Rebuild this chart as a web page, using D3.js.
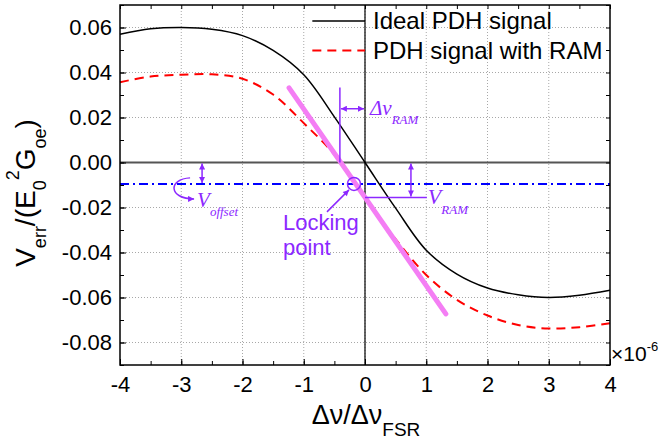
<!DOCTYPE html>
<html>
<head>
<meta charset="utf-8">
<script src="https://cdn.jsdelivr.net/npm/d3@7"></script>
<style>
body { margin: 0; background: #fff; }
svg text { font-family: "Liberation Sans", Arial, sans-serif; }
.grid line { stroke: #a8a8a8; stroke-width: 1; stroke-dasharray: 1,2; }
.axis line { stroke: #000; }
.axis path { display: none; }
.axis text { font-size: 22px; fill: #000; }
.note { fill: #8c28ff; }
.it { font-family: "Liberation Serif", "Times New Roman", serif; font-style: italic; }
</style>
</head>
<body>
<div id="chart"></div>
<script>
// detuning, in units of 1e-6 FSR
var detuning = [-4, -3.5, -3, -2.5, -2, -1.5, -1, -0.5, 0, 0.5, 1, 1.5, 2, 2.5, 3, 3.5, 4];
// ideal PDH error signal
var idealSignal = [0.057, 0.0594, 0.060, 0.0592, 0.0564, 0.0498, 0.0390, 0.0203, 0,
                   -0.0203, -0.0390, -0.0496, -0.0558, -0.0588, -0.0600, -0.0590, -0.0568];
// PDH error signal with RAM
var ramSignal = [0.0357, 0.0382, 0.0390, 0.0392, 0.0372, 0.0302, 0.0175, 0.0035, -0.0155,
                 -0.0340, -0.0500, -0.0610, -0.0680, -0.0722, -0.0738, -0.0732, -0.0714];

var xTicks = [-4, -3, -2, -1, 0, 1, 2, 3, 4];
var yTicks = [-0.08, -0.06, -0.04, -0.02, 0.00, 0.02, 0.04, 0.06];
var legendLabels = ["Ideal PDH signal", "PDH signal with RAM"];

// annotation values
var offsetLevel = -0.0095;            // V_offset
var lockPoint = {x: -0.18, v: -0.0095};
var slopeLine = [{x: -1.24, v: 0.0332}, {x: 1.32, v: -0.0673}];
var ramShift = -0.41;                 // where RAM slope crosses zero
var ramTop = 0.0333;
var ramArrowLevel = 0.0239;
var ramLevel = -0.0155;               // V_RAM
var offsetArrowX = -2.66;
var vramArrowX = 0.75;
var vramLineEnd = 1.01;

var margin = {top: 5, right: 51, bottom: 81, left: 120},
    width = 661 - margin.left - margin.right,
    height = 446 - margin.top - margin.bottom;

var x = d3.scaleLinear().domain([-4, 4]).range([0, width]);
var y = d3.scaleLinear().domain([-0.09, 0.07]).range([height, 0]);

var svg = d3.select("#chart").append("svg")
    .attr("width", 661)
    .attr("height", 446);

var defs = svg.append("defs");
defs.append("marker")
    .attr("id", "arr")
    .attr("viewBox", "0 0 10 10")
    .attr("refX", 10).attr("refY", 5)
    .attr("markerUnits", "userSpaceOnUse")
    .attr("markerWidth", 7).attr("markerHeight", 6)
    .attr("orient", "auto-start-reverse")
  .append("path")
    .attr("d", "M0,0 L10,5 L0,10 z")
    .attr("fill", "#8c28ff");

var g = svg.append("g")
    .attr("transform", "translate(" + margin.left + "," + margin.top + ")");

// grid
var grid = g.append("g").attr("class", "grid");
grid.selectAll(".gx").data(xTicks.slice(1, -1)).enter().append("line")
    .attr("x1", function(d) { return x(d); }).attr("x2", function(d) { return x(d); })
    .attr("y1", 0).attr("y2", height);
grid.selectAll(".gy").data(yTicks).enter().append("line")
    .attr("x1", 0).attr("x2", width)
    .attr("y1", function(d) { return y(d); }).attr("y2", function(d) { return y(d); });

// zero lines
g.append("line")
    .attr("x1", 0).attr("x2", width)
    .attr("y1", y(0)).attr("y2", y(0))
    .attr("stroke", "#555").attr("stroke-width", 2);
g.append("line")
    .attr("x1", x(0)).attr("x2", x(0))
    .attr("y1", 0).attr("y2", height)
    .attr("stroke", "#000").attr("stroke-width", 1.2);

// offset level
g.append("line")
    .attr("x1", 0).attr("x2", width)
    .attr("y1", y(offsetLevel)).attr("y2", y(offsetLevel))
    .attr("stroke", "#0000ff").attr("stroke-width", 2)
    .attr("stroke-dasharray", "9,4,2,4");

var pts = function(vals) {
  return detuning.map(function(d, i) { return {x: d, v: vals[i]}; });
};
var line = d3.line()
    .x(function(d) { return x(d.x); })
    .y(function(d) { return y(d.v); })
    .curve(d3.curveCatmullRom);

g.append("path")
    .datum(pts(ramSignal))
    .attr("d", line)
    .attr("fill", "none").attr("stroke", "#ff0000").attr("stroke-width", 2)
    .attr("stroke-dasharray", "9,6");

g.append("path")
    .datum(pts(idealSignal))
    .attr("d", line)
    .attr("fill", "none").attr("stroke", "#000").attr("stroke-width", 1.5);

// slope at the locking point
g.append("path")
    .datum(slopeLine)
    .attr("d", d3.line().x(function(d) { return x(d.x); }).y(function(d) { return y(d.v); }))
    .attr("stroke", "#f47ef4").attr("stroke-width", 5)
    .attr("stroke-linecap", "round");

// annotations
var purple = "#8c28ff";
var ann = g.append("g").attr("stroke", purple).attr("fill", "none").attr("stroke-width", 1.5);

// V_offset
ann.append("line")
    .attr("x1", x(offsetArrowX)).attr("x2", x(offsetArrowX))
    .attr("y1", y(0) + 1).attr("y2", y(offsetLevel) - 1)
    .attr("marker-start", "url(#arr)").attr("marker-end", "url(#arr)");
var ax = x(offsetArrowX), ay = y(offsetLevel);
ann.append("path")
    .attr("d", "M" + (ax - 12) + "," + (ay - 6) +
               "C" + (ax - 34) + "," + (ay - 5) + " " + (ax - 34) + "," + (ay + 15) + " " + (ax - 8) + "," + (ay + 15))
    .attr("marker-end", "url(#arr)");

// locking point
ann.append("circle")
    .attr("cx", x(lockPoint.x)).attr("cy", y(lockPoint.v)).attr("r", 6.5);
ann.append("line")
    .attr("x1", x(lockPoint.x) - 27).attr("y1", y(lockPoint.v) + 28)
    .attr("x2", x(lockPoint.x) - 5).attr("y2", y(lockPoint.v) + 6)
    .attr("marker-end", "url(#arr)");

// delta nu RAM
ann.append("line")
    .attr("x1", x(ramShift)).attr("x2", x(ramShift))
    .attr("y1", y(ramTop)).attr("y2", y(0));
ann.append("line")
    .attr("x1", x(ramShift) + 1).attr("x2", x(0) - 1)
    .attr("y1", y(ramArrowLevel)).attr("y2", y(ramArrowLevel))
    .attr("marker-start", "url(#arr)").attr("marker-end", "url(#arr)");

// V_RAM
ann.append("line")
    .attr("x1", x(0)).attr("x2", x(vramLineEnd))
    .attr("y1", y(ramLevel)).attr("y2", y(ramLevel));
ann.append("line")
    .attr("x1", x(vramArrowX)).attr("x2", x(vramArrowX))
    .attr("y1", y(0) + 1).attr("y2", y(ramLevel) - 1)
    .attr("marker-start", "url(#arr)").attr("marker-end", "url(#arr)");

// annotation text
var t1 = g.append("text").attr("class", "note it")
    .attr("x", ax - 5).attr("y", ay + 23).style("font-size", "21px");
t1.append("tspan").text("V");
t1.append("tspan").attr("dy", 9).style("font-size", "13px").text("offset");

var t2 = g.append("text").attr("class", "note")
    .attr("x", x(lockPoint.x) - 71).attr("y", y(lockPoint.v) + 46).style("font-size", "22px");
t2.append("tspan").text("Locking");
t2.append("tspan").attr("x", x(lockPoint.x) - 71).attr("dy", 25).text("point");

var t3 = g.append("text").attr("class", "note it")
    .attr("x", x(0) + 5).attr("y", y(ramArrowLevel) + 6).style("font-size", "21px");
t3.append("tspan").text("\u0394\u03bd");
t3.append("tspan").attr("dy", 9).style("font-size", "13px").text("RAM");

var t4 = g.append("text").attr("class", "note it")
    .attr("x", x(vramLineEnd) + 1).attr("y", y(ramLevel) + 7).style("font-size", "22px");
t4.append("tspan").text("V");
t4.append("tspan").attr("dy", 10).style("font-size", "13px").text("RAM");

// axes
var minorX = d3.range(-4, 4.01, 0.5), minorY = d3.range(-0.09, 0.0701, 0.01);
g.append("g").attr("class", "axis")
    .attr("transform", "translate(0," + height + ")")
    .call(d3.axisBottom(x).tickValues(minorX).tickSize(-4).tickFormat(""));
g.append("g").attr("class", "axis")
    .attr("transform", "translate(0," + height + ")")
    .call(d3.axisBottom(x).tickValues(xTicks).tickSize(-6).tickPadding(11).tickFormat(d3.format("d")));
g.append("g").attr("class", "axis")
    .call(d3.axisTop(x).tickValues(minorX).tickSize(-4).tickFormat(""));
g.append("g").attr("class", "axis")
    .call(d3.axisLeft(y).tickValues(minorY).tickSize(-4).tickFormat(""));
g.append("g").attr("class", "axis")
    .call(d3.axisLeft(y).tickValues(yTicks).tickSize(-6).tickPadding(8).tickFormat(d3.format(".2f")));
g.append("g").attr("class", "axis")
    .attr("transform", "translate(" + width + ",0)")
    .call(d3.axisRight(y).tickValues(minorY).tickSize(-4).tickFormat(""));

g.selectAll(".axis text").text(function() { return this.textContent.replace("\u2212", "-"); });

g.append("rect")
    .attr("width", width).attr("height", height)
    .attr("fill", "none").attr("stroke", "#000").attr("stroke-width", 1.5);

// legend
var legend = g.selectAll(".legend").data(legendLabels).enter().append("g")
    .attr("transform", function(d, i) { return "translate(" + (x(-0.86)) + "," + (16 + i * 29.5) + ")"; });
legend.append("line")
    .attr("x1", 0).attr("x2", x(0) - x(-0.86))
    .attr("stroke", function(d, i) { return i ? "#ff0000" : "#000"; })
    .attr("stroke-width", function(d, i) { return i ? 2 : 1.5; })
    .attr("stroke-dasharray", function(d, i) { return i ? "9,6" : null; });
legend.append("text")
    .attr("x", x(0) - x(-0.86) + 8).attr("y", 8)
    .style("font-size", "24px")
    .text(function(d) { return d; });

// multiplier
var mult = g.append("text").attr("x", width + 1).attr("y", height - 4).style("font-size", "21px");
mult.append("tspan").text("\u00d710");
mult.append("tspan").attr("dy", -10).style("font-size", "13px").text("-6");

// axis titles
var xt = svg.append("text").attr("x", 366).attr("y", 424)
    .attr("text-anchor", "middle").style("font-size", "27px");
xt.append("tspan").text("\u0394\u03bd/\u0394\u03bd");
xt.append("tspan").attr("dy", 12).style("font-size", "19px").text("FSR");

var yt = svg.append("text")
    .attr("transform", "translate(35,193) rotate(-90)")
    .attr("text-anchor", "middle").style("font-size", "28px");
yt.append("tspan").text("V");
yt.append("tspan").attr("dy", 11).style("font-size", "18px").text("err");
yt.append("tspan").attr("dy", -11).text("/(E");
yt.append("tspan").attr("dy", 11).style("font-size", "18px").text("0");
yt.append("tspan").attr("dy", -27).style("font-size", "18px").text("2");
yt.append("tspan").attr("dy", 16).text("G");
yt.append("tspan").attr("dy", 11).style("font-size", "18px").text("oe");
yt.append("tspan").attr("dy", -11).text(")");
</script>
</body>
</html>
